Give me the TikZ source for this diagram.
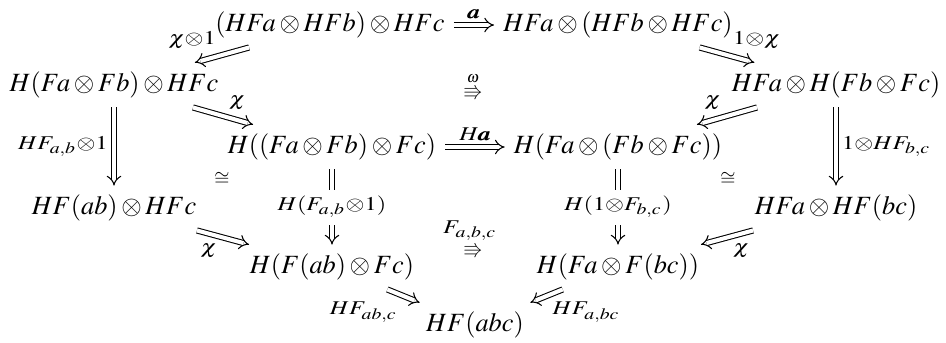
\documentclass[tikz,border=0pt]{standalone}
\usepackage{amsmath,amssymb}
\usepackage{mathptmx}
\usepackage{graphicx}
\usetikzlibrary{arrows.meta}
\newcommand\lbl[1]{\scalebox{1.25}[1]{$\scriptstyle #1$}}
\newcommand\bolda{\pmb{a}}
\begin{document}
\begin{tikzpicture}[x=0.38pt,y=-0.38pt,
  dbl/.style={draw, double, double equal sign distance, -{Implies}},
  lab/.style={auto, inner sep=0.5ex},
  desc/.style={fill=white, inner sep=2.5pt, anchor=center},
  sym/.style={inner sep=0pt}]
\useasboundingbox (0,0) rectangle (946,342);
\node (A) at (330,25) {$(HFa\otimes HFb)\otimes HFc$};
\node (B) at (618,25) {$HFa\otimes(HFb\otimes HFc)$};
\node (C) at (114,85) {$H(Fa\otimes Fb)\otimes HFc$};
\node (D) at (836,85) {$HFa\otimes H(Fb\otimes Fc)$};
\node (E) at (332,147) {$H((Fa\otimes Fb)\otimes Fc)$};
\node (F) at (618,147) {$H(Fa\otimes(Fb\otimes Fc))$};
\node (G) at (114,208) {$HF(ab)\otimes HFc$};
\node (Hn) at (836,208) {$HFa\otimes HF(bc)$};
\node (I) at (332,267) {$H(F(ab)\otimes Fc)$};
\node (J) at (618,267) {$H(Fa\otimes F(bc))$};
\node (K) at (475,325) {$HF(abc)$};
\node[sym] (omlab) at (473,79) {$\scriptscriptstyle\omega$};
\node[sym] (om) at (473,93) {$\scriptstyle\Rrightarrow$};
\node[sym] (philab) at (470,231) {\lbl{F_{a,b,c}}};
\node[sym] (phi) at (473,251) {$\scriptstyle\Rrightarrow$};
\node[sym] (c1) at (222,179) {$\scriptstyle\cong$};
\node[sym] (c2) at (728,179) {$\scriptstyle\cong$};
\draw[dbl] (A) -- node[lab]{\lbl{\bolda}} (B);
\draw[dbl] (A) -- node[lab,swap]{\lbl{\chi{\otimes}1}} (C);
\draw[dbl] (B) -- node[lab]{\lbl{1{\otimes}\chi}} (D);
\draw[dbl] (C) -- node[lab]{\lbl{\chi}} (E);
\draw[dbl] (D) -- node[lab,swap]{\lbl{\chi}} (F);
\draw[dbl] (E) -- node[lab]{\lbl{H\bolda}} (F);
\draw[dbl] (C) -- node[lab,swap]{\lbl{HF_{a,b}{\otimes}1}} (G);
\draw[dbl] (D) -- node[lab]{\lbl{1{\otimes}HF_{b,c}}} (Hn);
\draw[dbl] (G) -- node[lab,swap]{\lbl{\chi}} (I);
\draw[dbl] (Hn) -- node[lab]{\lbl{\chi}} (J);
\draw[dbl] (E) -- node[desc]{\lbl{H(F_{a,b}{\otimes}1)}} (I);
\draw[dbl] (F) -- node[desc]{\lbl{H(1{\otimes}F_{b,c})}} (J);
\draw[dbl] (I) -- node[lab,swap]{\lbl{HF_{ab,c}}} (K);
\draw[dbl] (J) -- node[lab]{\lbl{HF_{a,bc}}} (K);
\end{tikzpicture}
\end{document}
